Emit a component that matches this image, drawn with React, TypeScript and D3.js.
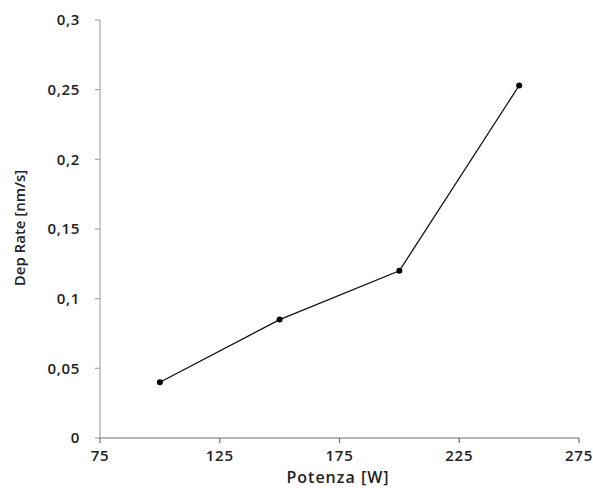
import React from "react";
import * as d3 from "d3";

const power = [100, 150, 200, 250];
const depRate = [0.04, 0.085, 0.12, 0.253];
const xTicks = [75, 125, 175, 225, 275];
const yTicks = [0, 0.05, 0.1, 0.15, 0.2, 0.25, 0.3];

export default function App() {
  const W = 593, H = 488;
  const x = d3.scaleLinear().domain([75, 275]).range([100, 579]);
  const y = d3.scaleLinear().domain([0, 0.3]).range([438, 20]);
  const line = d3.line<number>().x((_, i) => x(power[i])).y((d) => y(d));
  const fmt = (v: number) => String(+v.toFixed(2)).replace(".", ",");
  const font = "'Open Sans', sans-serif";
  return (
    <svg width={W} height={H} style={{ position: "absolute", left: 0, top: 0, background: "#fff" }}>
      <line x1={x(75)} x2={x(75)} y1={y(0.3)} y2={y(0)} stroke="#a6a6a6" strokeWidth={1.2} />
      <line x1={x(75)} x2={x(275)} y1={y(0)} y2={y(0)} stroke="#6e6e6e" strokeWidth={1.2} />
      {yTicks.map((t) => (
        <g key={"y" + t}>
          <line x1={x(75) - 5} x2={x(75)} y1={y(t)} y2={y(t)} stroke="#a6a6a6" strokeWidth={1.2} />
          <text x={80} y={y(t)} dy="0.35em" textAnchor="end" fontFamily={font} fontWeight={600} fontSize={15} letterSpacing={0.7} fill="#222">
            {fmt(t)}
          </text>
        </g>
      ))}
      {xTicks.map((t) => (
        <g key={"x" + t}>
          <line x1={x(t)} x2={x(t)} y1={y(0)} y2={y(0) + 5} stroke="#6e6e6e" strokeWidth={1.2} />
          <text x={x(t)} y={461} textAnchor="middle" fontFamily={font} fontWeight={600} fontSize={15} letterSpacing={0.7} fill="#222">
            {t}
          </text>
        </g>
      ))}
      <path d={line(depRate) || ""} fill="none" stroke="#111" strokeWidth={1.3} />
      {depRate.map((d, i) => (
        <circle key={i} cx={x(power[i])} cy={y(d)} r={3} fill="#000" />
      ))}
      <text x={338} y={483} textAnchor="middle" fontFamily={font} fontWeight={600} fontSize={16} letterSpacing={1} fill="#222">
        Potenza [W]
      </text>
      <text transform={`translate(25,228) rotate(-90)`} textAnchor="middle" fontFamily={font} fontWeight={600} fontSize={15} fill="#222">
        Dep Rate [nm/s]
      </text>
    </svg>
  );
}
